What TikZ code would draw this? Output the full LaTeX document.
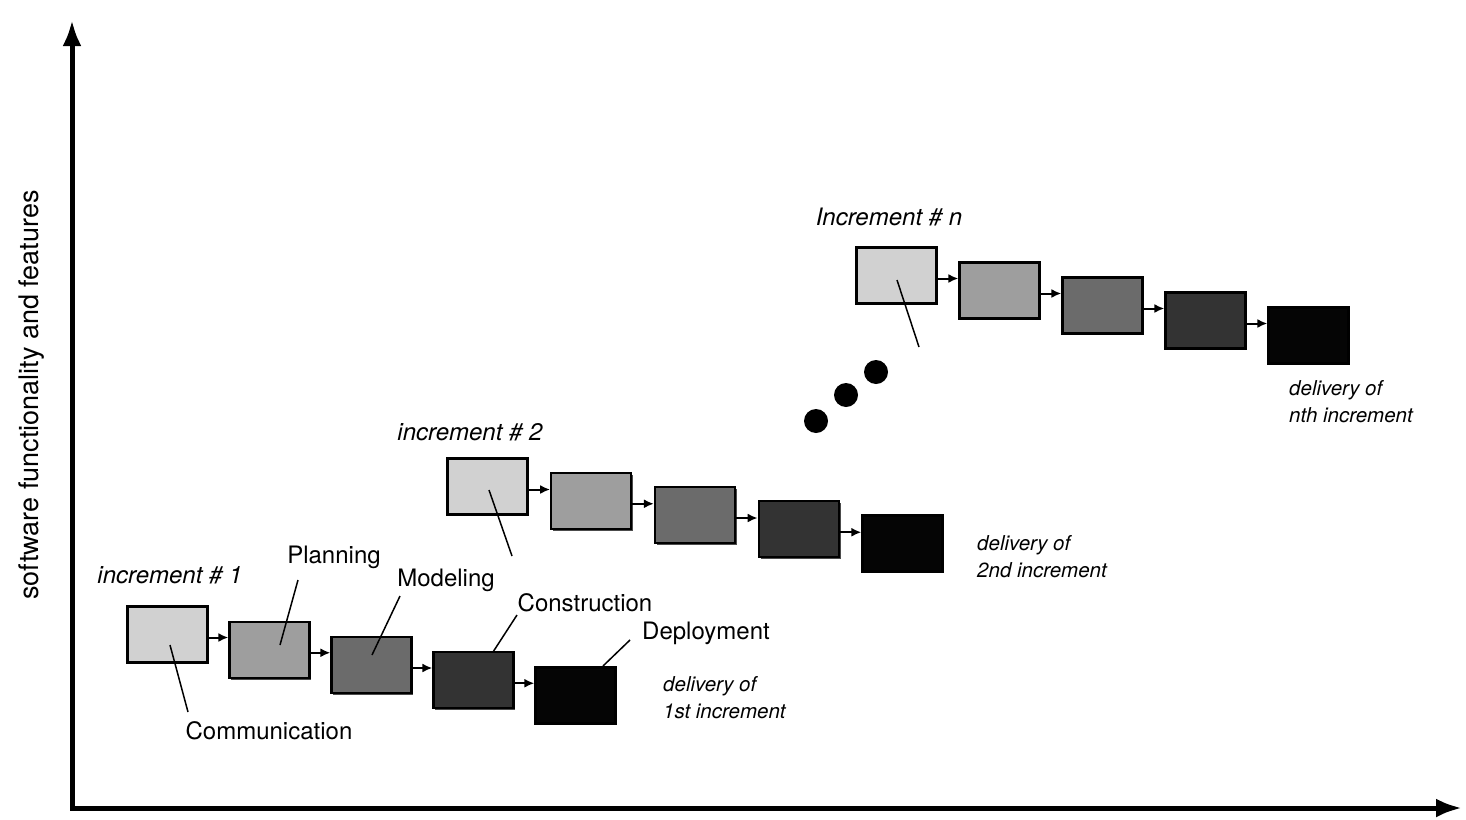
\documentclass[tikz,border=0pt]{standalone}
\usepackage{fontspec}
\setmainfont{TeX Gyre Heros}
\usetikzlibrary{arrows.meta,shadows}
\definecolor{shadeA}{gray}{0.82}
\definecolor{shadeB}{gray}{0.62}
\definecolor{shadeC}{gray}{0.42}
\definecolor{shadeD}{gray}{0.2}
\definecolor{shadeE}{gray}{0.02}
\tikzset{
  stage/.style={draw=black, line width=2.2pt, minimum width=80pt, minimum height=56pt, inner sep=0pt,
    drop shadow={shadow xshift=1.8pt, shadow yshift=-1.8pt, fill=black, opacity=0.7}},
  flow/.style={-{Latex[length=10pt,width=9pt]}, line width=2pt},
  leader/.style={line width=1.5pt},
  phase/.style={font=\fontsize{24}{28}\selectfont},
  inclabel/.style={font=\fontsize{24}{28}\selectfont\itshape},
  delivery/.style={font=\fontsize{20.5}{27}\selectfont\itshape, align=left, anchor=west, inner sep=0pt},
  axis/.style={line width=5pt, line join=miter, {Latex[length=26pt,width=19pt]}-{Latex[length=26pt,width=19pt]}}
}
\begin{document}
\begin{tikzpicture}[x=1pt,y=-1pt]
                \useasboundingbox (0,0) rectangle (1466,819);
                % axes
                \coordinate (ytop) at (72,20);
                \coordinate (origin) at (72,808);
                \coordinate (xend) at (1462,808);
                \draw[axis] (ytop) -- (origin) -- (xend);
                \node[rotate=90, font=\fontsize{27}{30}\selectfont] (ylab) at (32,395) {software functionality and features};
                % the three increments, five stages each
                \foreach \inc/\ox/\oy/\dx/\dy in {a/127/606/102/15.25, b/447/458/103.75/14.25, n/856/247/103/15}{
                    \foreach \i/\shade in {1/shadeA,2/shadeB,3/shadeC,4/shadeD,5/shadeE}
                        \node[stage, fill=\shade] (\inc\i) at ({\ox+40.5+(\i-1)*\dx},{\oy+28.5+(\i-1)*\dy}) {};
                    \foreach \i [count=\j from 2] in {1,...,4}
                        \draw[flow] ([yshift=-3pt]\inc\i.east) -- ([yshift=-3pt]\inc\i.east -| \inc\j.west);
                }
                % increment labels
                \node[inclabel] (inc1) at (170,575) {increment \# 1};
                \node[inclabel] (inc2) at (470,432) {increment \# 2};
                \node[inclabel] (incn) at (889,217) {Increment \# n};
                % phase names
                \node[phase] (comm) at (269,731) {Communication};
                \node[phase] (plan) at (334,557) {Planning};
                \node[phase] (model) at (446,580) {Modeling};
                \node[phase] (constr) at (585,603) {Construction};
                \node[phase] (deploy) at (706,633) {Deployment};
                \draw[leader] ([shift={(2.5,10.5)}]a1.center) -- ([shift={(-81,-19)}]comm.center);
                \draw[leader] ([shift={(10.5,-4.75)}]a2.center) -- ([shift={(-36,23)}]plan.center);
                \draw[leader] ([shift={(0.5,-10)}]a3.center) -- ([shift={(-46,16)}]model.center);
                \draw[leader] ([shift={(19.5,-28.25)}]a4.center) -- ([shift={(-68,12)}]constr.center);
                \draw[leader] ([shift={(27.5,-29.5)}]a5.center) -- ([shift={(-76,7)}]deploy.center);
                \coordinate (tailb) at (512,556);
                \coordinate (tailn) at (919,347);
                \draw[leader] ([shift={(1.5,3.5)}]b1.center) -- (tailb);
                \draw[leader] ([shift={(0.5,4.5)}]n1.center) -- (tailn);
                % deliveries
                \node[delivery] (del1) at (663,698) {delivery of\\1st increment};
                \node[delivery] (del2) at (977,557) {delivery of\\2nd increment};
                \node[delivery] (deln) at (1289,402) {delivery of\\nth increment};
                % more increments
                \fill (816,421) circle [radius=12pt];
                \fill (846,395) circle [radius=12pt];
                \fill (876,372) circle [radius=12pt];
            \end{tikzpicture}
\end{document}
